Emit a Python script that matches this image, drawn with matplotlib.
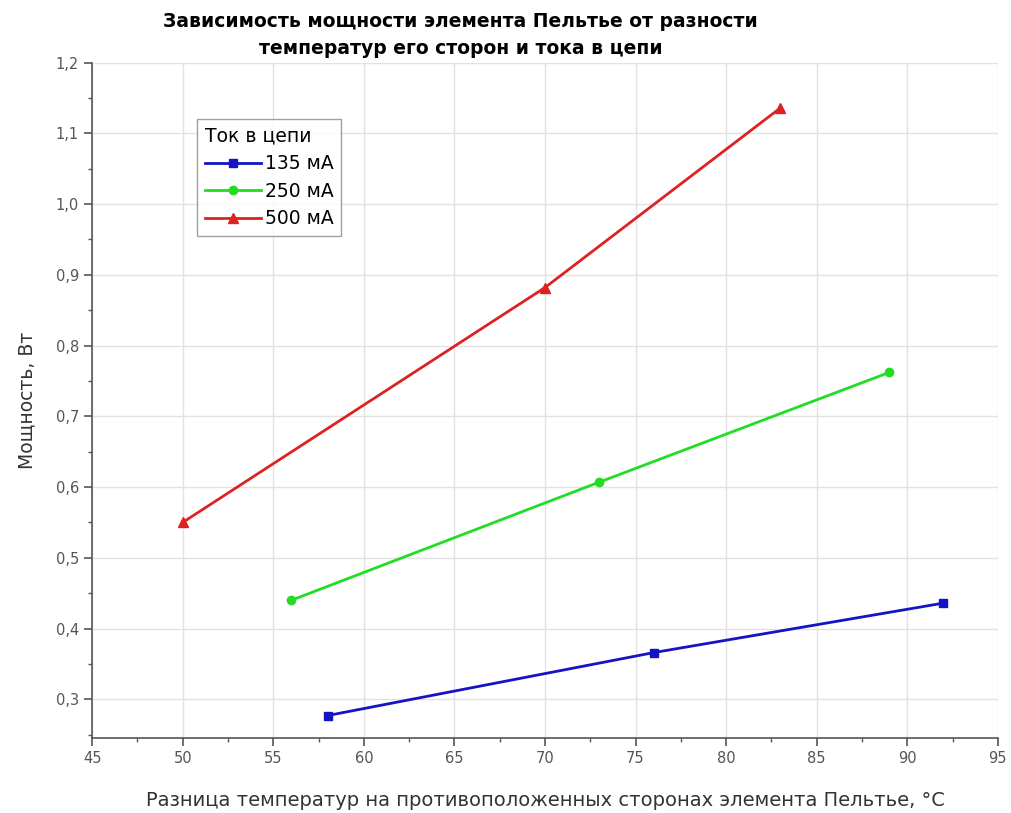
import numpy as np
import matplotlib
matplotlib.use("Agg")
import matplotlib.pyplot as plt
from matplotlib.ticker import MultipleLocator, FuncFormatter

plt.rcParams['font.family'] = ['DejaVu Sans']

# data
x_135 = [58, 76, 92]
y_135 = [0.277, 0.366, 0.436]
x_250 = [56, 73, 89]
y_250 = [0.440, 0.607, 0.762]
x_500 = [50, 70, 83]
y_500 = [0.550, 0.882, 1.136]
labels = ['135 мА', '250 мА', '500 мА']

fig = plt.figure(figsize=(10.12, 8.13), dpi=100)
ax = fig.add_axes([0.091, 0.092, 0.895, 0.831])

ax.plot(x_135, y_135, color='#1414c4', marker='s', markersize=6, lw=2, label=labels[0])
ax.plot(x_250, y_250, color='#22dd22', marker='o', markersize=6, lw=2, label=labels[1])
ax.plot(x_500, y_500, color='#dd2222', marker='^', markersize=7, lw=2, label=labels[2])

ax.set_xlim(45, 95)
ax.set_ylim(0.245, 1.2)
ax.xaxis.set_major_locator(MultipleLocator(5))
ax.xaxis.set_minor_locator(MultipleLocator(2.5))
ax.yaxis.set_major_locator(MultipleLocator(0.1))
ax.yaxis.set_minor_locator(MultipleLocator(0.05))
ax.yaxis.set_major_formatter(FuncFormatter(lambda v, p: f"{v:.1f}".replace('.', ',')))

ax.grid(True, which='major', color='#e2e2e2', lw=1)
ax.set_axisbelow(True)
for s in ['top', 'right']:
    ax.spines[s].set_visible(False)
for s in ['left', 'bottom']:
    ax.spines[s].set_color('#555555')
    ax.spines[s].set_linewidth(1.2)
ax.tick_params(which='major', length=6, width=1.2, color='#555555', labelsize=10.5, labelcolor='#555555')
ax.tick_params(which='minor', length=3, width=1.0, color='#555555')

ax.set_xlabel('Разница температур на противоположенных сторонах элемента Пельтье, °C',
              fontsize=14, color='#333333', labelpad=18)
ax.set_ylabel('Мощность, Вт', fontsize=13.5, color='#333333', labelpad=14)
fig.text(0.455, 0.985, 'Зависимость мощности элемента Пельтье от разности\nтемператур его сторон и тока в цепи',
         fontsize=13.5, fontweight='bold', ha='center', va='top', linespacing=1.55)

leg = ax.legend(title='Ток в цепи', loc='upper left', bbox_to_anchor=(0.116, 0.916),
                fontsize=13.5, title_fontsize=13.5, fancybox=False, edgecolor='#888888',
                handlelength=3.0, handletextpad=0.2, borderpad=0.4, labelspacing=0.45,
                borderaxespad=0)
leg._legend_box.align = 'left'
leg.get_frame().set_linewidth(1.0)

fig.savefig('out.png', dpi=100)
